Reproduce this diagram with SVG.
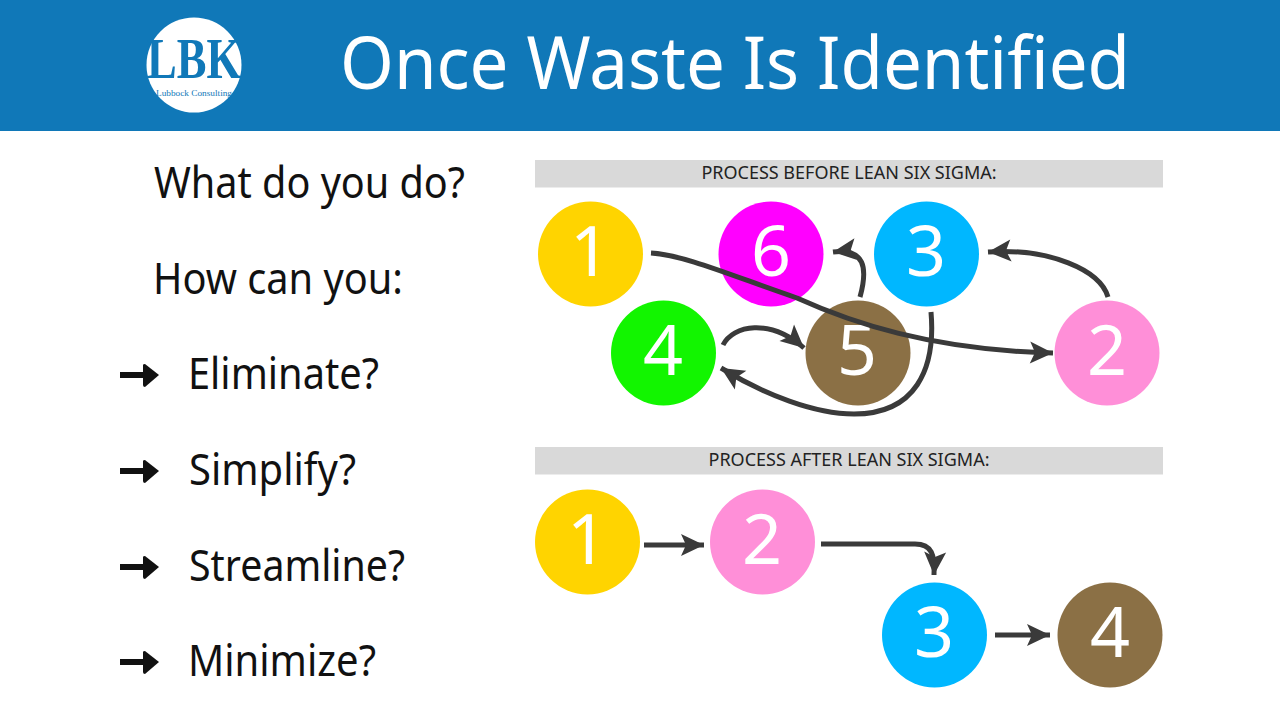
<svg xmlns="http://www.w3.org/2000/svg" width="1280" height="720" viewBox="0 0 1280 720">
<style>
text{font-family:"Noto Sans","Open Sans","Liberation Sans",sans-serif}
.side{font-size:43px;fill:#111}
.num{font-size:70px;fill:#fff;text-anchor:middle}
.bar{fill:#d9d9d9}
.cap{font-size:18px;fill:#222;text-anchor:middle}
.c{fill:none;stroke:#3a3a3a;stroke-width:5;marker-end:url(#ah)}
.b{fill:none;stroke:#111;stroke-width:6}
</style>
<defs>
<marker id="ah" markerUnits="userSpaceOnUse" markerWidth="28" markerHeight="28" refX="24" refY="14" orient="auto"><path d="M1 3L24 14L1 25L6 14Z" fill="#3a3a3a"/></marker>
</defs>
<rect width="1280" height="720" fill="#fff"/>
<rect id="header" width="1280" height="131" fill="#1078b8"/>
<g id="logo">
<circle cx="194" cy="65" r="47.500" fill="#fff"/>
<text x="194" y="78" font-size="56" font-weight="700" text-anchor="middle" textLength="94" lengthAdjust="spacingAndGlyphs" style="font-family:'Liberation Serif',serif" fill="#1078b8">LBK</text>
<text x="194" y="96" font-size="9" text-anchor="middle" textLength="76" lengthAdjust="spacingAndGlyphs" style="font-family:'Liberation Serif',serif" fill="#1078b8">Lubbock Consulting</text>
</g>
<text id="title" x="340" y="89" font-size="73" fill="#fff" textLength="790" lengthAdjust="spacingAndGlyphs">Once Waste Is Identified</text>
<g id="left-text">
<text class="side" x="154" y="198" textLength="311" lengthAdjust="spacingAndGlyphs">What do you do?</text>
<text class="side" x="153" y="294" textLength="250" lengthAdjust="spacingAndGlyphs">How can you:</text>
<text class="side" x="188" y="389" textLength="191" lengthAdjust="spacingAndGlyphs">Eliminate?</text>
<text class="side" x="189" y="485" textLength="167" lengthAdjust="spacingAndGlyphs">Simplify?</text>
<text class="side" x="189" y="581" textLength="216" lengthAdjust="spacingAndGlyphs">Streamline?</text>
<text class="side" x="188" y="676" textLength="188" lengthAdjust="spacingAndGlyphs">Minimize?</text>
</g>
<g id="bullets">
<g id="b1"><path class="b" d="M120 375H148"/><path d="M145 364L159 375L145 387Q143 387 143 385V365Q143 364 145 364Z" fill="#111"/></g>
<g id="b2"><path class="b" d="M120 471H148"/><path d="M145 460L159 471L145 483Q143 483 143 481V461Q143 460 145 460Z" fill="#111"/></g>
<g id="b3"><path class="b" d="M120 567H148"/><path d="M145 556L159 567L145 579Q143 579 143 577V557Q143 556 145 556Z" fill="#111"/></g>
<g id="b4"><path class="b" d="M120 662H148"/><path d="M145 651L159 662L145 674Q143 674 143 672V652Q143 651 145 651Z" fill="#111"/></g>
</g>
<g id="before-header"><rect class="bar" x="535" y="160" width="628" height="27.500"/><text class="cap" x="849" y="179">PROCESS BEFORE LEAN SIX SIGMA:</text></g>
<g id="after-header"><rect class="bar" x="535" y="447" width="628" height="27.500"/><text class="cap" x="849" y="466">PROCESS AFTER LEAN SIX SIGMA:</text></g>
<g id="before-1"><circle cx="590.500" cy="254" r="52.500" fill="#ffd400"/><text class="num" x="590" y="276">1</text></g>
<g id="before-6"><circle cx="771" cy="254" r="52.500" fill="#ff00ff"/><text class="num" x="771" y="276">6</text></g>
<g id="before-3"><circle cx="926.500" cy="254" r="52.500" fill="#00b7ff"/><text class="num" x="926" y="276">3</text></g>
<g id="before-4"><circle cx="663.500" cy="353" r="52.500" fill="#12f500"/><text class="num" x="663" y="375">4</text></g>
<g id="before-5"><circle cx="858" cy="353" r="52.500" fill="#8b7045"/><text class="num" x="857" y="375">5</text></g>
<g id="before-2"><circle cx="1107" cy="353" r="52.500" fill="#ff8fd8"/><text class="num" x="1107" y="375">2</text></g>
<g id="after-1"><circle cx="587.500" cy="542" r="52.500" fill="#ffd400"/><text class="num" x="587" y="564">1</text></g>
<g id="after-2"><circle cx="762.500" cy="542" r="52.500" fill="#ff8fd8"/><text class="num" x="762" y="564">2</text></g>
<g id="after-3"><circle cx="934.500" cy="635" r="52.500" fill="#00b7ff"/><text class="num" x="934" y="657">3</text></g>
<g id="after-4"><circle cx="1110" cy="635" r="52.500" fill="#8b7045"/><text class="num" x="1110" y="657">4</text></g>
<g id="connectors">
<path class="c" d="M651 253C685 255 735 277 797 298C850 322 930 350 1053 353"/>
<path class="c" d="M1108 297C1100 270 1050 248 988 252"/>
<path class="c" d="M860 297C868 268 865 248 833 252"/>
<path class="c" d="M723 345C733 325 770 318 804 348"/>
<path class="c" d="M931 312C936 370 915 414 854 414C815 414 765 395 721 368"/>
<path class="c" d="M644 545H704"/>
<path class="c" d="M821 544H915C932 544 935 555 934 575"/>
<path class="c" d="M995 635H1050"/>
</g>
</svg>
